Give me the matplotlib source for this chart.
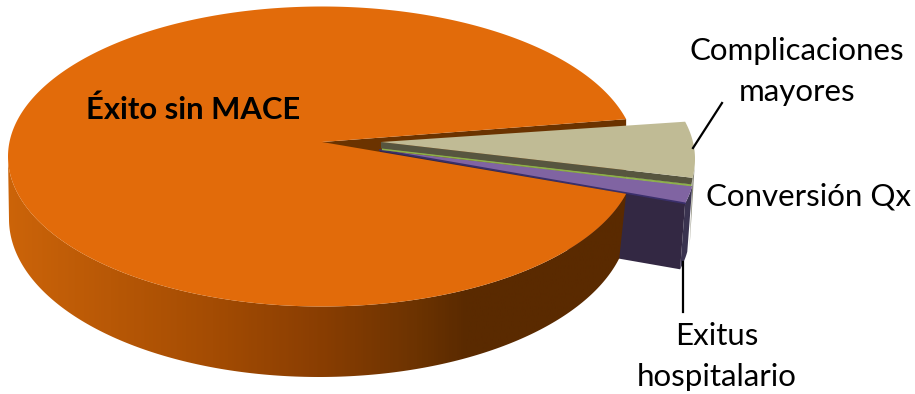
import numpy as np
import matplotlib
matplotlib.use("Agg")
import matplotlib.pyplot as plt
from matplotlib.patches import Polygon

categories = ["Éxito sin MACE", "Complicaciones mayores", "Conversión Qx", "Exitus hospitalario"]
values = [92.0, 6.0, 0.1, 1.9]
top_colors = ["#E26B0A", "#C0BB95", "#8DB04A", "#8064A2"]

FONT = "Lato"
fig = plt.figure(figsize=(9.15, 3.94), dpi=100)
ax = fig.add_axes([0, 0, 1, 1])
ax.set_xlim(0, 915)
ax.set_ylim(394, 0)
ax.axis("off")

# slice angles from the values, clockwise from the first small slice
ang = np.array(values) * 3.6
a_tan0 = (ang[1] + ang[2] + ang[3]) / 2
a_tan1 = a_tan0 - ang[1]
a_grn1 = a_tan1 - ang[2]
a_pur1 = a_grn1 - ang[3]


def arc(cx, cy, rx, ry, a0, a1, n=200):
    t = np.radians(np.linspace(a0, a1, n))
    return np.column_stack([cx + rx * np.cos(t), cy - ry * np.sin(t)])


def poly(pts, color, z):
    ax.add_patch(Polygon(pts, closed=True, facecolor=color, edgecolor="none", lw=0, zorder=z))


# inner wall of the large slice, seen through the gap
upper = arc(322, 156.5, 314, 150, a_tan0, a_tan0, 1)[0]
poly([(322, 142), upper, upper + [0, 66], (322, 208)], "#6B3300", 1)

# small slices: purple walls
pur = arc(381, 166, 314, 150, a_grn1, a_pur1)
shift = np.array([-5, 66])
poly(np.vstack([pur, (pur + shift)[::-1]]), "#3A3350", 2)
poly([(380, 150), pur[-1], pur[-1] + shift, np.array([380, 150]) + shift], "#332843", 3)
# outer wall of the tan slice, thin sliver
tan = arc(381, 159, 314, 150, a_tan0, a_tan1)
poly(np.vstack([tan[-60:], tan[-1] + [-3, 70]]), "#8B8A78", 1.5)

# faces
poly(np.vstack([[(380, 150)], pur]), top_colors[3], 4)
ax.plot([380, pur[-1][0]], [150, pur[-1][1]], color="#3A2F6B", lw=1.2, zorder=4.5)
ax.plot([382, tan[-1][0] - 1], [149, 185.2], color=top_colors[2], lw=1.6, solid_capstyle="butt", zorder=5)
poly([(381, 142), tan[-1], tan[-1] + [-1, 6.6], (381, 148.4)], "#57553F", 5.5)
poly(np.vstack([[(381, 142)], tan]), top_colors[1], 6)

# front wall of the large slice, with a horizontal gradient
front_top = arc(322, 156.5, 314, 150, 180, 360 + a_pur1)
front_bot = arc(319, 219, 310, 158, 180, 360 + a_pur1)
wall = Polygon(np.vstack([front_top, front_bot[::-1]]), closed=True, facecolor="none", lw=0, zorder=7)
ax.add_patch(wall)
cmap = matplotlib.colors.LinearSegmentedColormap.from_list(
    "w", [(0, "#CC6409"), (0.33, "#A44C03"), (0.5, "#8A3E02"), (0.66, "#6C3301"), (0.74, "#5A2A00"), (1, "#5A2A00")])
im = ax.imshow(np.linspace(0, 1, 300)[None, :], extent=(5, 630, 394, 0), aspect="auto", cmap=cmap, zorder=7)
im.set_clip_path(wall)
ax.set_xlim(0, 915)
ax.set_ylim(394, 0)

# top face of the large slice
orange = arc(322, 156.5, 314, 150, a_tan0, 360 + a_pur1, 500)
poly(np.vstack([[(322, 142)], orange]), top_colors[0], 8)

# leader lines
ax.plot([693, 722], [148, 103], color="black", lw=1.6, zorder=9)
ax.plot([683, 683], [262, 312], color="black", lw=1.6, zorder=9)

# labels
fs = 22.5
ax.text(193.5, 110, categories[0], fontsize=22.3, fontweight="bold", family=FONT, ha="center", va="center", color="black", zorder=10)
ax.text(797, 51, "Complicaciones", fontsize=fs, family=FONT, ha="center", va="center", zorder=10)
ax.text(797, 92, "mayores", fontsize=fs, family=FONT, ha="center", va="center", zorder=10)
ax.text(809, 196, categories[2], fontsize=fs, family=FONT, ha="center", va="center", zorder=10)
ax.text(717, 336, "Exitus", fontsize=fs, family=FONT, ha="center", va="center", zorder=10)
ax.text(717, 377, "hospitalario", fontsize=fs, family=FONT, ha="center", va="center", zorder=10)

fig.savefig("out.png", dpi=100)
